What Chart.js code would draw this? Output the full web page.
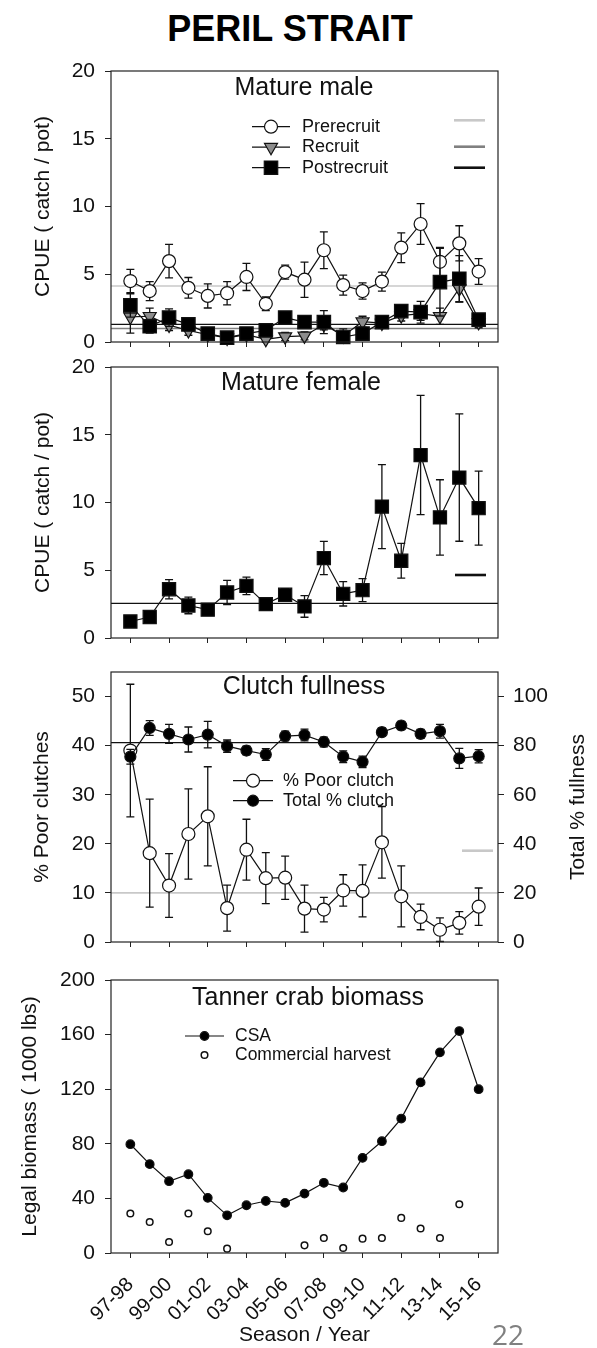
<!DOCTYPE html>
<html>
<head>
<meta charset="utf-8">
<script src="https://cdn.jsdelivr.net/npm/chart.js@4.4.1/dist/chart.umd.min.js"></script>
<style>
  body { margin: 0; background: #fff; }
  #page { position: relative; width: 597px; height: 1348px; overflow: hidden; font-family: 'Liberation Sans', Arial, sans-serif; }
  canvas { position: absolute; left: 0; }
  #title { position: absolute; left: 0; width: 580px; top: 8px; text-align: center; font-weight: bold; font-size: 36px; color: #000; }
  #pageNo { position: absolute; left: 492px; top: 1315px; font-size: 28px; color: #808080; font-family: 'Open Sans', sans-serif; }
</style>
</head>
<body>
<div id="page">
  <div id="title">PERIL STRAIT</div>
  <canvas id="male" width="597" height="300" style="top:56px"></canvas>
  <canvas id="female" width="597" height="300" style="top:352px"></canvas>
  <canvas id="clutch" width="597" height="299" style="top:657px"></canvas>
  <canvas id="biomass" width="597" height="383" style="top:965px"></canvas>
  <div id="pageNo">22</div>
</div>
<script>
const seasons = ['97-98', '98-99', '99-00', '00-01', '01-02', '02-03', '03-04', '04-05', '05-06', '06-07',
  '07-08', '08-09', '09-10', '10-11', '11-12', '12-13', '13-14', '14-15', '15-16'];

// Mature male CPUE
const prerecruit = [4.5, 3.76, 5.97, 4.0, 3.4, 3.6, 4.8, 2.82, 5.16, 4.6, 6.77, 4.2, 3.76, 4.46, 6.96, 8.71, 5.92, 7.28, 5.2];
const prerecruitSE = [0.86, 0.7, 1.24, 0.76, 0.89, 0.86, 1.0, 0.5, 0.52, 1.3, 1.35, 0.74, 0.6, 0.7, 1.1, 1.5, 1.06, 1.3, 0.95];
const recruit = [1.85, 1.9, 1.25, 0.85, 0.55, 0.3, 0.55, 0.2, 0.4, 0.45, 1.3, 0.45, 1.5, 1.4, 1.95, 2.1, 1.9, 3.95, 1.45];
const recruitSE = [1.2, 0.6, 0.4, 0.35, 0.3, 0.2, 0.3, 0.3, 0.3, 0.3, 0.4, 0.3, 0.4, 0.4, 0.4, 0.5, 0.6, 1.0, 0.4];
const postrecruit = [2.7, 1.16, 1.8, 1.3, 0.62, 0.32, 0.62, 0.86, 1.8, 1.47, 1.47, 0.37, 0.62, 1.47, 2.28, 2.2, 4.42, 4.67, 1.65];
const postrecruitSE = [0.86, 0.5, 0.65, 0.45, 0.25, 0.2, 0.3, 0.45, 0.3, 0.35, 0.85, 0.6, 0.35, 0.3, 0.3, 0.8, 2.5, 1.7, 0.4];
const maleMeans = [4.13, 1.0, 1.3]; // prerecruit, recruit, postrecruit

// Mature female CPUE
const female = [1.22, 1.55, 3.6, 2.4, 2.09, 3.36, 3.85, 2.5, 3.19, 2.33, 5.9, 3.26, 3.53, 9.7, 5.7, 13.5, 8.9, 11.84, 9.58];
const femaleSE = [0.2, 0.2, 0.71, 0.61, 0.3, 0.9, 0.65, 0.25, 0.45, 0.8, 1.23, 0.9, 0.85, 3.1, 1.28, 4.4, 2.78, 4.7, 2.73];
const femaleMean = 2.55;

// Clutch fullness
const poorClutch = [39.0, 18.1, 11.5, 22.0, 25.6, 6.9, 18.8, 13.0, 13.1, 6.8, 6.6, 10.5, 10.4, 20.3, 9.3, 5.1, 2.5, 3.9, 7.2];
const poorClutchSE = [13.5, 11.0, 6.5, 9.2, 10.1, 4.7, 6.2, 5.2, 4.4, 4.8, 2.5, 3.2, 5.3, 7.3, 6.2, 2.6, 2.4, 2.3, 3.8];
const totalClutch = [75.5, 87.2, 84.8, 82.5, 84.5, 79.8, 78.0, 76.4, 83.9, 84.3, 81.5, 75.5, 73.4, 85.5, 88.2, 84.8, 85.9, 74.8, 75.7];
const totalClutchSE = [3.0, 3.0, 3.9, 5.1, 5.4, 2.5, 1.8, 2.4, 2.0, 2.4, 2.0, 2.4, 2.3, 1.7, 1.7, 1.8, 2.8, 4.1, 2.7];
const poorMean = 10;
const totalMean = 81.2;

// Legal biomass (1000 lbs)
const csa = [79.7, 65.1, 52.6, 57.7, 40.4, 27.6, 35.0, 38.1, 36.7, 43.5, 51.4, 48.0, 69.7, 81.9, 98.5, 125, 147, 162.6, 120];
const harvest = [28.9, 22.7, 8.1, 28.9, 15.9, 3.2, null, null, null, 5.6, 11, 3.7, 10.5, 11, 25.7, 17.9, 11, 35.7, null];

const FONT = "'Liberation Sans', Arial, sans-serif";
Chart.defaults.font.family = FONT;
Chart.defaults.color = '#111';
Chart.defaults.animation = false;

const pts = (arr) => arr.map((y, i) => ({ x: i, y: y }));

function drawMarker(ctx, ds, x, y) {
  const r = ds.pointRadius;
  const rot = (ds.pointRotation || 0) * Math.PI / 180;
  ctx.save();
  ctx.fillStyle = ds.pointBackgroundColor;
  ctx.strokeStyle = ds.pointBorderColor;
  ctx.lineWidth = ds.pointBorderWidth;
  ctx.beginPath();
  if (ds.pointStyle === 'rect') {
    const s = r * Math.SQRT1_2;
    ctx.rect(x - s, y - s, 2 * s, 2 * s);
  } else if (ds.pointStyle === 'triangle') {
    for (let k = 0; k < 3; k++) {
      const t = rot + k * 2 * Math.PI / 3;
      const px = x + Math.sin(t) * r, py = y - Math.cos(t) * r;
      if (k) ctx.lineTo(px, py); else ctx.moveTo(px, py);
    }
    ctx.closePath();
  } else {
    ctx.arc(x, y, r, 0, 2 * Math.PI);
  }
  ctx.fill();
  ctx.stroke();
  ctx.restore();
}

// error bars, mean lines, frame, in-panel titles and legends
const panelPlugin = {
  id: 'panel',
  beforeDatasetsDraw(chart, args, o) {
    const { ctx, chartArea: a } = chart;
    ctx.save();
    (o.means || []).forEach((m) => {
      const y = chart.scales[m.axis].getPixelForValue(m.value);
      ctx.strokeStyle = m.color;
      ctx.lineWidth = m.width;
      ctx.beginPath();
      ctx.moveTo(a.left, y);
      ctx.lineTo(a.right, y);
      ctx.stroke();
    });
    ctx.restore();
  },
  beforeDatasetDraw(chart, args) {
    const ds = chart.data.datasets[args.index];
    if (!ds.errors) return;
    const ctx = chart.ctx;
    const xs = chart.scales.x;
    const ys = chart.scales[args.meta.yAxisID];
    ctx.save();
    ctx.strokeStyle = '#111';
    ctx.lineWidth = 1.3;
    ds.data.forEach((p, i) => {
      const e = ds.errors[i];
      if (p.y == null || !e) return;
      const x = xs.getPixelForValue(p.x);
      const top = ys.getPixelForValue(p.y + e);
      const bot = ys.getPixelForValue(Math.max(p.y - e, 0));
      ctx.beginPath();
      ctx.moveTo(x, top); ctx.lineTo(x, bot);
      ctx.moveTo(x - 4, top); ctx.lineTo(x + 4, top);
      ctx.moveTo(x - 4, bot); ctx.lineTo(x + 4, bot);
      ctx.stroke();
    });
    ctx.restore();
  },
  afterDraw(chart, args, o) {
    const { ctx, chartArea: a } = chart;
    ctx.save();
    ctx.strokeStyle = '#222';
    ctx.lineWidth = 1.2;
    ctx.strokeRect(a.left, a.top, a.right - a.left, a.bottom - a.top);

    ctx.fillStyle = '#111';
    ctx.textBaseline = 'middle';
    ctx.textAlign = 'center';
    ctx.font = '25px ' + FONT;
    ctx.fillText(o.title, a.left + o.titleX, a.top + o.titleY);

    const lg = o.legend;
    if (lg) {
      ctx.font = lg.size + 'px ' + FONT;
      ctx.textAlign = 'left';
      lg.items.forEach((idx, k) => {
        const ds = chart.data.datasets[idx];
        const y = a.top + lg.y + k * lg.dy;
        const x0 = a.left + lg.x;
        if (ds.showLine !== false) {
          ctx.strokeStyle = '#111';
          ctx.lineWidth = 1.2;
          ctx.beginPath();
          ctx.moveTo(x0, y);
          ctx.lineTo(x0 + lg.len, y);
          ctx.stroke();
        }
        drawMarker(ctx, ds, x0 + lg.len / 2, y);
        ctx.fillStyle = '#111';
        ctx.fillText(ds.label, x0 + lg.len + lg.gap, y);
      });
    }

    (o.means || []).forEach((m) => {
      if (!m.key) return;
      ctx.strokeStyle = m.color;
      ctx.lineWidth = 2.6;
      ctx.beginPath();
      ctx.moveTo(a.left + m.key[0], a.top + m.key[1]);
      ctx.lineTo(a.left + m.key[0] + 31, a.top + m.key[1]);
      ctx.stroke();
    });

    if (o.rightTitle) {
      ctx.fillStyle = '#111';
      ctx.font = '21px ' + FONT;
      ctx.textAlign = 'center';
      ctx.translate(578, (a.top + a.bottom) / 2);
      ctx.rotate(-Math.PI / 2);
      ctx.fillText(o.rightTitle, 0, 0);
    }
    ctx.restore();
  }
};

function xAxis(showLabels) {
  return {
    type: 'linear',
    min: -1,
    max: 19,
    afterBuildTicks: (axis) => {
      axis.ticks = seasons.map((s, i) => ({ value: i })).filter((t) => t.value % 2 === 0);
    },
    grid: { drawOnChartArea: false, drawTicks: true, tickLength: 5, color: '#222' },
    border: { display: false },
    ticks: {
      display: showLabels,
      autoSkip: false,
      minRotation: 45,
      maxRotation: 45,
      padding: 15,
      color: '#111',
      font: { size: 20 },
      callback: (v) => seasons[v]
    },
    title: { display: showLabels, text: 'Season / Year', color: '#111', font: { size: 21 }, padding: 0 },
    afterFit: (axis) => { axis.height = showLabels ? 95 : 14; }
  };
}

function yAxis(max, step, title, titlePad, position) {
  return {
    type: 'linear',
    position: position || 'left',
    min: 0,
    max: max,
    ticks: { stepSize: step, padding: position === 'right' ? 9 : 10, color: '#111', font: { size: 21 }, includeBounds: false },
    grid: { drawOnChartArea: false, drawTicks: true, tickLength: 6, color: '#222' },
    border: { display: false },
    title: { display: !!title, text: title, color: '#111', font: { size: 21 }, padding: { top: titlePad, bottom: 0 } },
    afterFit: (axis) => {
      axis.width = position === 'right' ? 99 : 111;
      axis.paddingTop = 0;
      axis.paddingBottom = 0;
    }
  };
}

function series(label, data, errors, style, fill, radius, extra) {
  return Object.assign({
    label: label,
    data: pts(data),
    errors: errors,
    showLine: true,
    borderColor: '#111',
    borderWidth: 1.2,
    tension: 0,
    pointStyle: style,
    pointRadius: radius,
    pointBackgroundColor: fill,
    pointBorderColor: '#111',
    pointBorderWidth: 1.2,
    clip: false
  }, extra || {});
}

function baseOptions(panel, scales, padRight) {
  return {
    responsive: false,
    animation: false,
    layout: { padding: { top: 15, left: 0, right: padRight, bottom: 0 } },
    plugins: { legend: { display: false }, tooltip: { enabled: false }, panel: panel },
    scales: scales
  };
}

// Mature male
new Chart(document.getElementById('male'), {
  type: 'scatter',
  data: {
    datasets: [
      series('Postrecruit', postrecruit, postrecruitSE, 'rect', '#000', 9.5),
      series('Recruit', recruit, recruitSE, 'triangle', '#8c8c8c', 7.5, { pointRotation: 180 }),
      series('Prerecruit', prerecruit, prerecruitSE, 'circle', '#fff', 6.5)
    ]
  },
  options: baseOptions({
    title: 'Mature male', titleX: 193, titleY: 17,
    legend: { items: [2, 1, 0], x: 141, y: 55.7, dy: 20.5, len: 38, gap: 12, size: 18 },
    means: [
      { value: maleMeans[0], axis: 'y', color: '#c8c8c8', width: 1.6, key: [343, 49.3] },
      { value: maleMeans[1], axis: 'y', color: '#808080', width: 1.4, key: [343, 75.7] },
      { value: maleMeans[2], axis: 'y', color: '#111', width: 1.3, key: [343, 96.7] }
    ]
  }, { x: xAxis(false), y: yAxis(20, 5, 'CPUE ( catch / pot)', 31) }, 99),
  plugins: [panelPlugin]
});

// Mature female
new Chart(document.getElementById('female'), {
  type: 'scatter',
  data: {
    datasets: [series('Mature female', female, femaleSE, 'rect', '#000', 9.3)]
  },
  options: baseOptions({
    title: 'Mature female', titleX: 190, titleY: 16.3,
    means: [{ value: femaleMean, axis: 'y', color: '#111', width: 1.3, key: [344, 208] }]
  }, { x: xAxis(false), y: yAxis(20, 5, 'CPUE ( catch / pot)', 31) }, 99),
  plugins: [panelPlugin]
});

// Clutch fullness
new Chart(document.getElementById('clutch'), {
  type: 'scatter',
  data: {
    datasets: [
      series('Total % clutch', totalClutch, totalClutchSE, 'circle', '#000', 5.5, { yAxisID: 'y2' }),
      series('% Poor clutch', poorClutch, poorClutchSE, 'circle', '#fff', 6.5, { yAxisID: 'y' })
    ]
  },
  options: baseOptions({
    title: 'Clutch fullness', titleX: 193, titleY: 15.6,
    legend: { items: [1, 0], x: 122, y: 108.7, dy: 20, len: 40, gap: 10, size: 18 },
    means: [
      { value: totalMean, axis: 'y2', color: '#111', width: 1.3 },
      { value: poorMean, axis: 'y', color: '#c8c8c8', width: 1.6, key: [351, 178.7] }
    ],
    rightTitle: 'Total % fullness'
  }, {
    x: xAxis(false),
    y: yAxis(55, 10, '% Poor clutches', 30),
    y2: yAxis(110, 20, '', 0, 'right')
  }, 0),
  plugins: [panelPlugin]
});

// Tanner crab biomass
new Chart(document.getElementById('biomass'), {
  type: 'scatter',
  data: {
    datasets: [
      series('CSA', csa, null, 'circle', '#000', 4.3),
      series('Commercial harvest', harvest, null, 'circle', '#fff', 3.3, { showLine: false, pointBorderWidth: 1.5 })
    ]
  },
  options: baseOptions({
    title: 'Tanner crab biomass', titleX: 197, titleY: 18.3,
    legend: { items: [0, 1], x: 74, y: 56, dy: 19, len: 39, gap: 11, size: 17.5 }
  }, { x: xAxis(true), y: yAxis(200, 40, 'Legal biomass ( 1000 lbs)', 18) }, 99),
  plugins: [panelPlugin]
});
</script>
</body>
</html>
